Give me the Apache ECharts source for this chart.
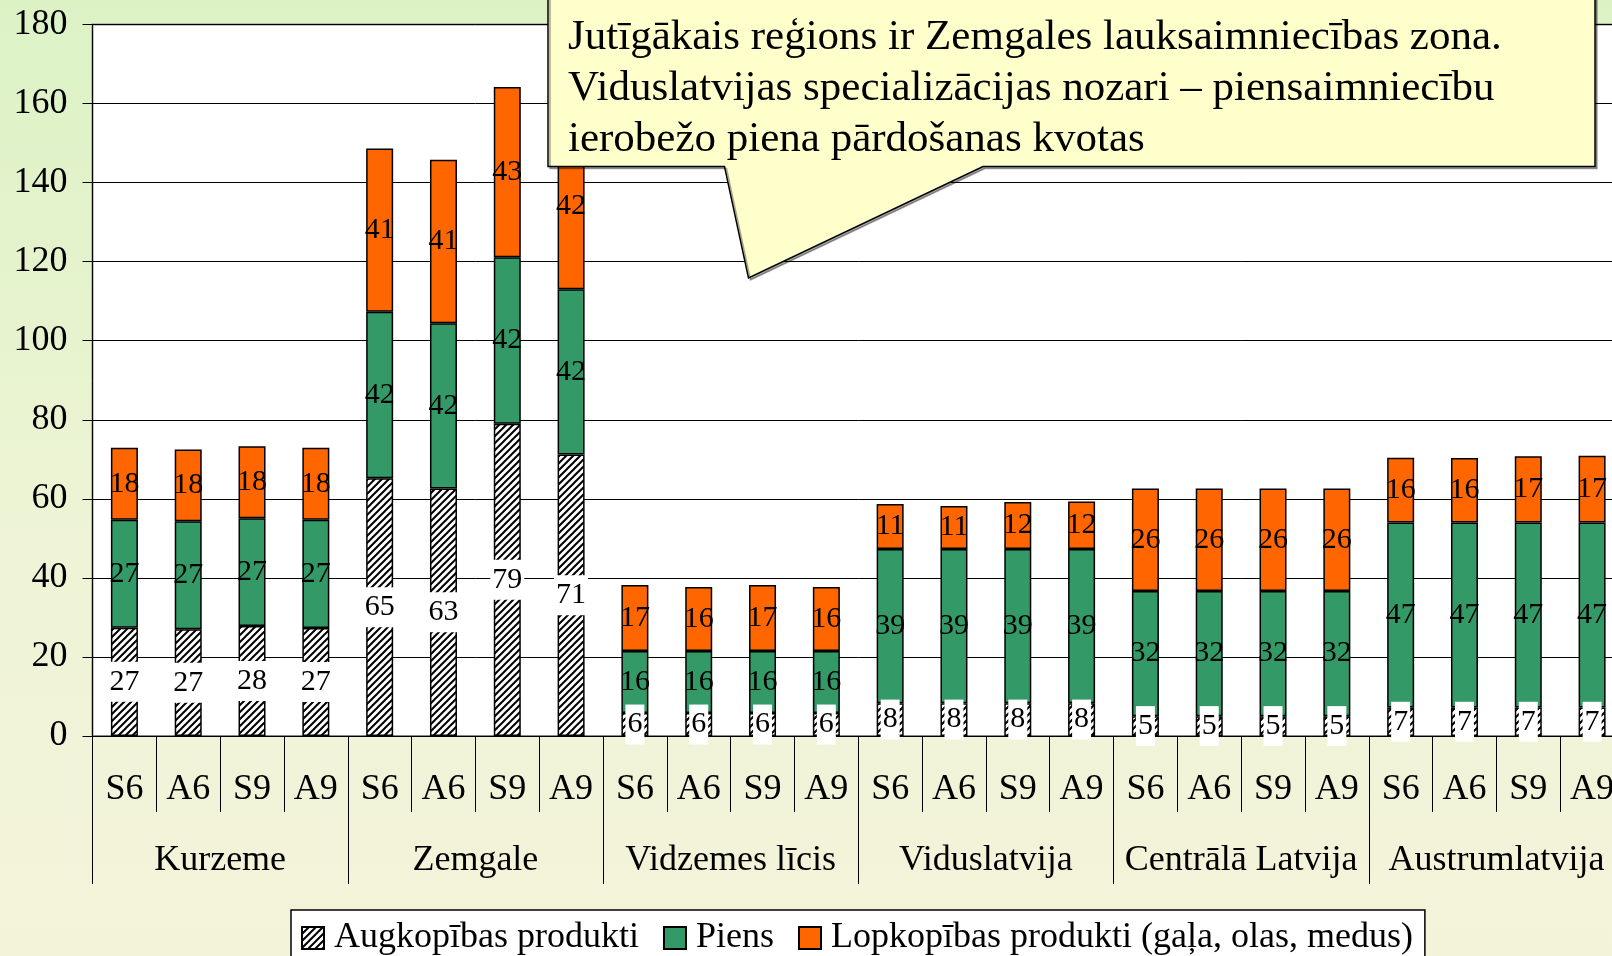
<!DOCTYPE html>
<html>
<head>
<meta charset="utf-8">
<script src="https://cdn.jsdelivr.net/npm/echarts@6/dist/echarts.min.js"></script>
<style>
    html, body { margin: 0; padding: 0; overflow: hidden; }
    /* the plot runs past the right edge of the picture, so the canvas is a bit wider than the window */
    #chart { width: 1626px; height: 956px; }
</style>
</head>
<body>
<div id="chart"></div>
<script>
(function () {
    'use strict';

    var regions = ['Kurzeme', 'Zemgale', 'Vidzemes līcis', 'Viduslatvija', 'Centrālā Latvija', 'Austrumlatvija'];
    var periods = ['S6', 'A6', 'S9', 'A9'];
    var yTicks = { min: 0, max: 180, step: 20 };

    // Augkopības produkti
    var crops = [27.4, 27.0, 27.8, 27.3, 65.2, 62.6, 79.0, 71.2, 5.8, 5.8, 5.8, 5.8,
                 8.3, 8.3, 8.3, 8.3, 5.0, 5.0, 5.0, 5.0, 7.2, 7.2, 7.2, 7.2];
    // Piens
    var milk = [27.3, 27.3, 27.3, 27.4, 42.1, 41.8, 42.1, 41.8, 15.7, 15.7, 15.7, 15.7,
                39.0, 39.0, 39.0, 39.0, 31.7, 31.7, 31.7, 31.7, 46.8, 46.8, 46.8, 46.8];
    // Lopkopības produkti
    var meat = [18.2, 18.2, 18.2, 18.2, 41.3, 41.4, 43.1, 42.0, 16.7, 16.2, 16.7, 16.2,
                11.4, 10.9, 11.9, 12.0, 25.9, 25.9, 25.9, 25.9, 16.4, 16.3, 16.8, 16.9];

    var seriesNames = ['Augkopības produkti', 'Piens', 'Lopkopības produkti (gaļa, olas, medus)'];
    var calloutLines = [
        'Jutīgākais reģions ir Zemgales lauksaimniecības zona.',
        'Viduslatvijas specializācijas nozari – piensaimniecību',
        'ierobežo piena pārdošanas kvotas'
    ];

    var FONT = '"Liberation Serif", "Times New Roman", serif';

    var categories = [];
    regions.forEach(function () {
        periods.forEach(function (p) { categories.push(p); });
    });

    function makeHatch() {
        var c = document.createElement('canvas');
        c.width = 7;
        c.height = 7;
        var ctx = c.getContext('2d');
        ctx.fillStyle = '#fff';
        ctx.fillRect(0, 0, 7, 7);
        ctx.strokeStyle = '#000';
        ctx.lineWidth = 2;
        ctx.beginPath();
        ctx.moveTo(-1, 8); ctx.lineTo(8, -1);
        ctx.moveTo(-4.5, 4.5); ctx.lineTo(4.5, -4.5);
        ctx.moveTo(2.5, 11.5); ctx.lineTo(11.5, 2.5);
        ctx.stroke();
        return c;
    }

    function roundLabel(p) { return Math.round(p.value); }

    var labelBase = {
        show: true,
        position: 'inside',
        color: '#000',
        fontSize: 30,
        fontFamily: FONT,
        formatter: roundLabel
    };

    var myChart = echarts.init(document.getElementById('chart'));

    var option = {
        animation: false,
        backgroundColor: new echarts.graphic.LinearGradient(0, 0, 0, 1, [
            { offset: 0, color: '#dcf2c5' },
            { offset: 0.6, color: '#eff4d6' },
            { offset: 1, color: '#f3f3da' }
        ]),
        grid: {
            left: 92.5,
            right: 2,
            top: 24.5,
            bottom: 220,
            show: true,
            backgroundColor: '#fff',
            borderColor: '#888',
            borderWidth: 2
        },
        legend: {
            left: 291,
            top: 910,
            padding: [10, 12, 14, 10],
            itemWidth: 22,
            itemHeight: 22,
            itemGap: 24,
            backgroundColor: '#fff',
            borderColor: '#000',
            borderWidth: 1.5,
            icon: 'rect',
            textStyle: { fontSize: 36, fontFamily: FONT, color: '#000', padding: [0, 0, 0, 5] },
            data: seriesNames
        },
        xAxis: [
            {
                type: 'category',
                data: categories,
                axisLine: { lineStyle: { color: '#000', width: 1 } },
                axisTick: { show: true, interval: 0, length: 76, lineStyle: { color: '#000' } },
                axisLabel: { interval: 0, margin: 36, fontSize: 36, fontFamily: FONT, color: '#000' },
                splitLine: { show: false }
            },
            {
                type: 'category',
                data: regions,
                position: 'bottom',
                axisLine: { show: false },
                axisTick: { show: true, interval: 0, length: 148, lineStyle: { color: '#000' } },
                axisLabel: { interval: 0, margin: 107, fontSize: 36, fontFamily: FONT, color: '#000' },
                splitLine: { show: false }
            }
        ],
        yAxis: {
            type: 'value',
            min: yTicks.min,
            max: yTicks.max,
            interval: yTicks.step,
            axisLine: { show: true, lineStyle: { color: '#000', width: 1 } },
            axisTick: { show: true, length: 10, lineStyle: { color: '#000' } },
            axisLabel: { margin: 25, fontSize: 36, fontFamily: FONT, color: '#000' },
            splitLine: { lineStyle: { color: '#000', width: 1 } }
        },
        series: [
            {
                name: seriesNames[0],
                type: 'bar',
                stack: 'total',
                barWidth: 27,
                data: crops,
                itemStyle: { color: { image: makeHatch(), repeat: 'repeat' }, borderColor: '#000', borderWidth: 1.5 },
                label: Object.assign({}, labelBase, {
                    backgroundColor: '#fff',
                    lineHeight: 30,
                    padding: [5, 2, 5, 2]
                })
            },
            {
                name: seriesNames[1],
                type: 'bar',
                stack: 'total',
                barWidth: 27,
                data: milk,
                itemStyle: { color: '#339966', borderColor: '#000', borderWidth: 1.5 },
                label: labelBase
            },
            {
                name: seriesNames[2],
                type: 'bar',
                stack: 'total',
                barWidth: 27,
                data: meat,
                itemStyle: { color: '#ff6600', borderColor: '#000', borderWidth: 1.5 },
                label: labelBase
            }
        ],
        graphic: [
            {
                type: 'polygon',
                z: 100,
                shape: {
                    points: [[548, -5], [1595, -5], [1595, 166.5], [983, 166.5], [748.5, 278],
                             [724.5, 166.5], [548, 166.5]]
                },
                style: {
                    fill: '#ffffcc',
                    stroke: '#000',
                    lineWidth: 1.5,
                    shadowColor: 'rgba(0,0,0,0.35)',
                    shadowOffsetX: 2,
                    shadowOffsetY: 2
                }
            },
            {
                type: 'text',
                z: 101,
                left: 568,
                top: 12,
                style: {
                    text: calloutLines.join('\n'),
                    font: '43px ' + FONT,
                    lineHeight: 51,
                    fill: '#000'
                }
            }
        ]
    };

    myChart.setOption(option);
})();
</script>
</body>
</html>
